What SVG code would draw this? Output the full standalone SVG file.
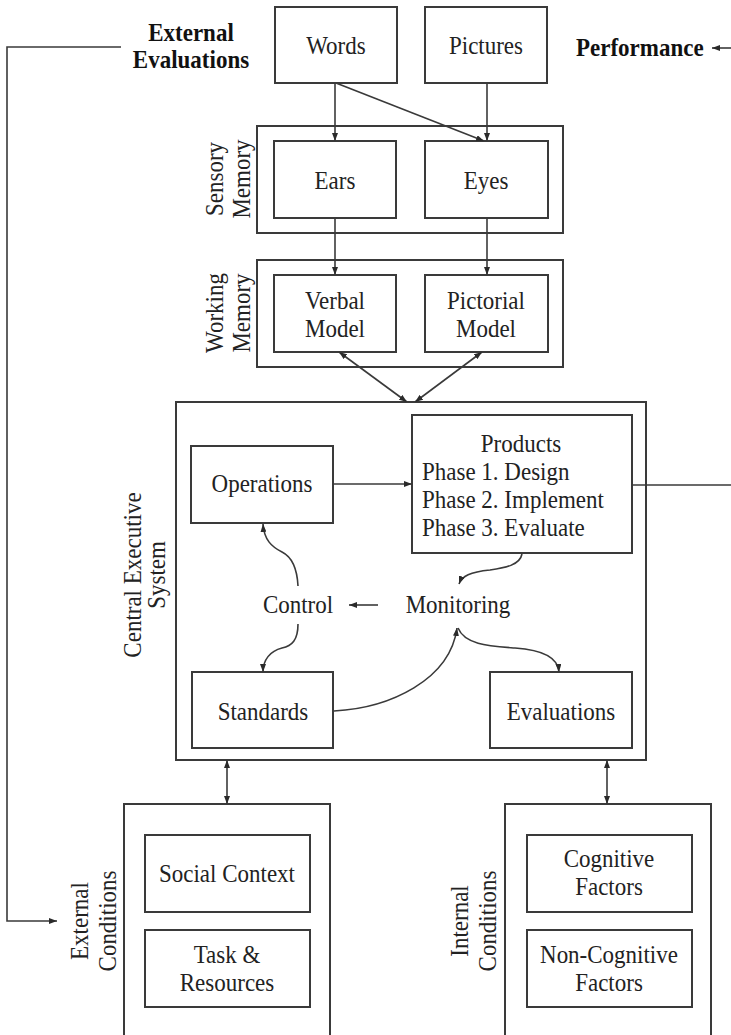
<svg xmlns="http://www.w3.org/2000/svg" width="731" height="1035" viewBox="0 0 731 1035">
  <defs>
    <marker id="ah" viewBox="0 0 8 6" refX="8" refY="3" markerWidth="8" markerHeight="6" markerUnits="userSpaceOnUse" orient="auto-start-reverse">
      <path d="M0,0 L8,3 L0,6 z" fill="#2a2a2a"/>
    </marker>
    <style>
      .box { fill: none; stroke: #3a3a3a; stroke-width: 2; }
      .ln { fill: none; stroke: #3a3a3a; stroke-width: 1.6; }
      .t { font-family: "Liberation Serif", "Times New Roman", serif; font-size: 23px; fill: #222; }
      .h { transform-box: fill-box; transform-origin: center; transform: scaleY(1.12); }
      .c { text-anchor: middle; }
      .b { font-weight: bold; fill: #111; }
    </style>
  </defs>
  <rect width="731" height="1035" fill="#ffffff"/>

  <!-- top labels -->
  <g id="external-evaluations">
    <text class="t h b c" x="191" y="40">External</text>
    <text class="t h b c" x="191" y="67">Evaluations</text>
  </g>
  <g id="performance">
    <text class="t h b" x="576" y="55">Performance</text>
  </g>

  <!-- inputs -->
  <g id="words">
    <rect class="box" x="275" y="7" width="122" height="76"/>
    <text class="t h c" x="336" y="53">Words</text>
  </g>
  <g id="pictures">
    <rect class="box" x="425" y="7" width="122" height="76"/>
    <text class="t h c" x="486" y="53">Pictures</text>
  </g>

  <!-- sensory memory -->
  <g id="sensory-memory">
    <rect class="box" x="257" y="126" width="306" height="107"/>
    <text class="t c" transform="translate(223,179) rotate(-90) scale(1,1.12)">Sensory</text>
    <text class="t c" transform="translate(250,179) rotate(-90) scale(1,1.12)">Memory</text>
  </g>
  <g id="ears">
    <rect class="box" x="274" y="141" width="122" height="77"/>
    <text class="t h c" x="335" y="188">Ears</text>
  </g>
  <g id="eyes">
    <rect class="box" x="425" y="141" width="123" height="77"/>
    <text class="t h c" x="486" y="188">Eyes</text>
  </g>

  <!-- working memory -->
  <g id="working-memory">
    <rect class="box" x="257" y="260" width="306" height="107"/>
    <text class="t c" transform="translate(223,313) rotate(-90) scale(1,1.12)">Working</text>
    <text class="t c" transform="translate(250,313) rotate(-90) scale(1,1.12)">Memory</text>
  </g>
  <g id="verbal-model">
    <rect class="box" x="274" y="275" width="122" height="77"/>
    <text class="t h c" x="335" y="308">Verbal</text>
    <text class="t h c" x="335" y="336">Model</text>
  </g>
  <g id="pictorial-model">
    <rect class="box" x="425" y="275" width="123" height="77"/>
    <text class="t h c" x="486" y="308">Pictorial</text>
    <text class="t h c" x="486" y="336">Model</text>
  </g>

  <!-- central executive system -->
  <g id="central-executive-system">
    <rect class="box" x="176" y="402" width="470" height="358"/>
    <text class="t c" transform="translate(141,575) rotate(-90) scale(1,1.12)">Central Executive</text>
    <text class="t c" transform="translate(165,575) rotate(-90) scale(1,1.12)">System</text>
  </g>
  <g id="operations">
    <rect class="box" x="191" y="446" width="142" height="77"/>
    <text class="t h c" x="262" y="491">Operations</text>
  </g>
  <g id="products">
    <rect class="box" x="412" y="415" width="220" height="138"/>
    <text class="t h c" x="521" y="451">Products</text>
    <text class="t h" x="422" y="479">Phase 1. Design</text>
    <text class="t h" x="422" y="507">Phase 2. Implement</text>
    <text class="t h" x="422" y="535">Phase 3. Evaluate</text>
  </g>
  <g id="control">
    <text class="t h c" x="298" y="612">Control</text>
  </g>
  <g id="monitoring">
    <text class="t h c" x="458" y="612">Monitoring</text>
  </g>
  <g id="standards">
    <rect class="box" x="192" y="672" width="141" height="76"/>
    <text class="t h c" x="263" y="719">Standards</text>
  </g>
  <g id="evaluations">
    <rect class="box" x="490" y="672" width="142" height="76"/>
    <text class="t h c" x="561" y="719">Evaluations</text>
  </g>

  <!-- external conditions -->
  <g id="external-conditions">
    <rect class="box" x="124" y="804" width="206" height="240"/>
    <text class="t c" transform="translate(88,921) rotate(-90) scale(1,1.12)">External</text>
    <text class="t c" transform="translate(116,921) rotate(-90) scale(1,1.12)">Conditions</text>
  </g>
  <g id="social-context">
    <rect class="box" x="145" y="835" width="165" height="77"/>
    <text class="t h c" x="227" y="881">Social Context</text>
  </g>
  <g id="task-resources">
    <rect class="box" x="145" y="930" width="165" height="77"/>
    <text class="t h c" x="227" y="962">Task &amp;</text>
    <text class="t h c" x="227" y="990">Resources</text>
  </g>

  <!-- internal conditions -->
  <g id="internal-conditions">
    <rect class="box" x="505" y="804" width="206" height="240"/>
    <text class="t c" transform="translate(468,921) rotate(-90) scale(1,1.12)">Internal</text>
    <text class="t c" transform="translate(496,921) rotate(-90) scale(1,1.12)">Conditions</text>
  </g>
  <g id="cognitive-factors">
    <rect class="box" x="527" y="835" width="165" height="77"/>
    <text class="t h c" x="609" y="866">Cognitive</text>
    <text class="t h c" x="609" y="894">Factors</text>
  </g>
  <g id="non-cognitive-factors">
    <rect class="box" x="527" y="930" width="165" height="77"/>
    <text class="t h c" x="609" y="962">Non-Cognitive</text>
    <text class="t h c" x="609" y="990">Factors</text>
  </g>

  <!-- connectors -->
  <g id="connectors">
    <polyline class="ln" points="121,47 7,47 7,921 57,921" marker-end="url(#ah)"/>
    <line class="ln" x1="731" y1="48" x2="712" y2="48" marker-end="url(#ah)"/>
    <line class="ln" x1="335" y1="83" x2="335" y2="141" marker-end="url(#ah)"/>
    <line class="ln" x1="336" y1="83" x2="484" y2="141" marker-end="url(#ah)"/>
    <line class="ln" x1="487" y1="83" x2="487" y2="141" marker-end="url(#ah)"/>
    <line class="ln" x1="335" y1="218" x2="335" y2="275" marker-end="url(#ah)"/>
    <line class="ln" x1="487" y1="218" x2="487" y2="275" marker-end="url(#ah)"/>
    <line class="ln" x1="339" y1="352" x2="407" y2="402" marker-start="url(#ah)" marker-end="url(#ah)"/>
    <line class="ln" x1="482" y1="352" x2="415" y2="402" marker-start="url(#ah)" marker-end="url(#ah)"/>
    <line class="ln" x1="333" y1="484" x2="412" y2="484" marker-end="url(#ah)"/>
    <line class="ln" x1="632" y1="485" x2="731" y2="485"/>
    <path class="ln" d="M522,554 C520,565 505,568 490,570 C470,572 462,576 459,584" marker-end="url(#ah)"/>
    <line class="ln" x1="378" y1="605" x2="349" y2="605" marker-end="url(#ah)"/>
    <path class="ln" d="M298,586 C297,566 290,556 282,552 C272,547 264,540 263,524" marker-end="url(#ah)"/>
    <path class="ln" d="M298,624 C298,640 292,646 282,648 C270,651 263,660 263,672" marker-end="url(#ah)"/>
    <path class="ln" d="M334,711 C390,708 450,680 457,628" marker-end="url(#ah)"/>
    <path class="ln" d="M458,628 C465,645 490,646 515,648 C545,650 558,658 559,672" marker-end="url(#ah)"/>
    <line class="ln" x1="227" y1="760" x2="227" y2="804" marker-start="url(#ah)" marker-end="url(#ah)"/>
    <line class="ln" x1="607" y1="760" x2="607" y2="804" marker-start="url(#ah)" marker-end="url(#ah)"/>
  </g>
</svg>
